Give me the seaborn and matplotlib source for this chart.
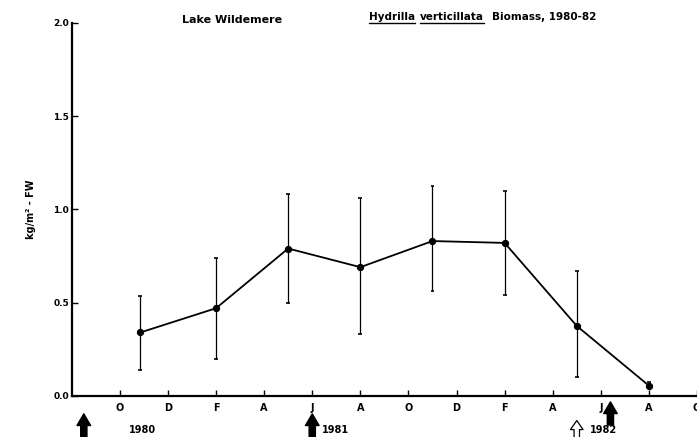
import matplotlib
matplotlib.use("Agg")
import matplotlib.pyplot as plt
import pandas as pd
import seaborn as sns

# months counted from August 1980
sample_month = [2.85, 6, 9, 12, 15, 18, 21, 24]
biomass = [0.34, 0.47, 0.79, 0.69, 0.83, 0.82, 0.375, 0.055]
err_low = [0.14, 0.20, 0.50, 0.33, 0.56, 0.54, 0.10, 0.04]
err_high = [0.535, 0.74, 1.08, 1.06, 1.125, 1.10, 0.67, 0.075]

tick_months = [2, 4, 6, 8, 10, 12, 14, 16, 18, 20, 22, 24, 26]
tick_labels = ["O", "D", "F", "A", "J", "A", "O", "D", "F", "A", "J", "A", "O"]
y_ticks = [0.0, 0.5, 1.0, 1.5, 2.0]

# arrows under the axis (filled / open) and year labels
filled_arrows = [0.5, 10, 22.4]
open_arrows = [21]
year_month = [2.96, 10.96, 22.1]
year_labels = ["1980", "1981", "1982"]

df = pd.DataFrame({"month": sample_month, "biomass": biomass,
                   "low": err_low, "high": err_high})

sns.set_style("ticks")
plt.rcParams["font.family"] = ["DejaVu Sans"]
plt.rcParams["font.weight"] = "bold"
for key in ["text.color", "axes.labelcolor", "xtick.color", "ytick.color", "axes.edgecolor"]:
    plt.rcParams[key] = "black"

fig = plt.figure(figsize=(6.97, 4.37), dpi=100)
ax = fig.add_axes([0.103, 0.094, 0.897, 0.854])

ax.vlines(df["month"], df["low"], df["high"], color="black", linewidth=0.9)
ax.hlines(df["low"], df["month"] - 0.08, df["month"] + 0.08, color="black", linewidth=1.2)
ax.hlines(df["high"], df["month"] - 0.08, df["month"] + 0.08, color="black", linewidth=1.2)
sns.lineplot(data=df, x="month", y="biomass", ax=ax, color="black",
             linewidth=1.3, marker="o", markersize=4.5, markeredgecolor="black")

ax.set_xlim(0, 26)
ax.set_ylim(0, 2.0)
ax.set_xticks(tick_months)
ax.set_xticklabels(tick_labels, fontsize=7, fontweight="bold")
ax.set_yticks(y_ticks)
ax.set_yticklabels(["%.1f" % v for v in y_ticks], fontsize=6.5)
ax.tick_params(axis="both", direction="in", length=4, width=1, pad=5)
ax.tick_params(axis="y", pad=2)
ax.set_xlabel("")
ax.set_ylabel("kg/m² - FW", fontsize=7, fontweight="bold", labelpad=12)
sns.despine(ax=ax)
for side in ["left", "bottom"]:
    ax.spines[side].set_linewidth(1.6)

trans = ax.get_xaxis_transform()
for m in filled_arrows:
    top = -0.016 if m > 20 else -0.048
    ax.annotate("", xy=(m, top), xytext=(m, top - 0.062), xycoords=trans,
                textcoords=trans, annotation_clip=False,
                arrowprops=dict(arrowstyle="simple,head_length=0.6,head_width=0.7,tail_width=0.32",
                                fc="black", ec="black", mutation_scale=14,
                                shrinkA=0, shrinkB=0))
for m in open_arrows:
    ax.annotate("", xy=(m, -0.066), xytext=(m, -0.115), xycoords=trans,
                textcoords=trans, annotation_clip=False,
                arrowprops=dict(arrowstyle="simple,head_length=0.5,head_width=0.7,tail_width=0.3",
                                fc="white", ec="black", lw=0.9, mutation_scale=13,
                                shrinkA=0, shrinkB=0))
for m, lab in zip(year_month, year_labels):
    ax.text(m, -0.09, lab, transform=trans, ha="center", va="center",
            fontsize=7, fontweight="bold", clip_on=False)

fig.text(0.333, 0.955, "Lake Wildemere", ha="center", va="center", fontsize=8, fontweight="bold")
t1 = fig.text(0.529, 0.962, "Hydrilla", ha="left", va="center", fontsize=7.5)
t2 = fig.text(0.602, 0.962, "verticillata", ha="left", va="center", fontsize=7.5)
fig.text(0.706, 0.962, "Biomass, 1980-82", ha="left", va="center", fontsize=7.5)

fig.canvas.draw()
inv = fig.transFigure.inverted()
for t in [t1, t2]:
    bb = t.get_window_extent()
    (x0, y0), (x1, y1) = inv.transform([(bb.x0, bb.y0), (bb.x1, bb.y1)])
    fig.add_artist(plt.Line2D([x0, x1], [y0 - 0.004, y0 - 0.004],
                              transform=fig.transFigure, color="black", linewidth=1))

fig.savefig("out.png", dpi=100)
